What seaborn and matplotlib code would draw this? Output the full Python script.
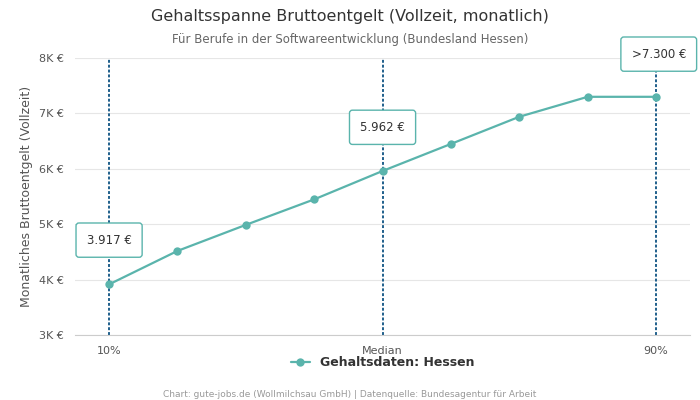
import matplotlib
matplotlib.use("Agg")
import matplotlib.pyplot as plt
import seaborn as sns
import pandas as pd

positions = [0, 1, 2, 3, 4, 5, 6, 7, 8]
salaries = [3917, 4520, 4990, 5450, 5962, 6450, 6940, 7300, 7300]
tick_pos = [0, 4, 8]
tick_labels = ["10%", "Median", "90%"]
marker_pos = [0, 4, 8]
marker_text = ["3.917 €", "5.962 €", ">7.300 €"]
marker_y = [4715, 6750, 8070]

color = "#5ab4ac"
df = pd.DataFrame({"pos": positions, "gehalt": salaries})

fig = plt.figure(figsize=(7, 4), dpi=100)
ax = fig.add_axes([0.107, 0.162, 0.879, 0.693])
sns.set_style("white")

for x in marker_pos:
    ax.axvline(x, color="#1f5f8b", linestyle=(0, (1.5, 1)), linewidth=1.4, zorder=1)

sns.lineplot(data=df, x="pos", y="gehalt", color=color, marker="o", markersize=6,
             markeredgewidth=0, linewidth=1.6, ax=ax, label="Gehaltsdaten: Hessen", zorder=3)

for x, y, t in zip(marker_pos, marker_y, marker_text):
    ax.text(x + (0.04 if x == 8 else 0), y, t, ha="center", va="center", fontsize=8.5, color="#333333",
            bbox=dict(boxstyle="round,pad=0.9,rounding_size=0.25", fc="white", ec=color, lw=1), zorder=5)

ax.set_xlim(-0.5, 8.5)
ax.set_ylim(3000, 8000)
ax.set_yticks(range(3000, 8001, 1000))
ax.set_yticklabels([f"{v // 1000}K €" for v in range(3000, 8001, 1000)], fontsize=8, color="#555555")
ax.set_xticks(tick_pos)
ax.set_xticklabels(tick_labels, fontsize=8, color="#555555")
ax.tick_params(length=0, pad=8)
ax.grid(axis="y", color="#e6e6e6", linewidth=0.8)
ax.set_axisbelow(True)
for s in ["top", "right", "left"]:
    ax.spines[s].set_visible(False)
ax.spines["bottom"].set_color("#cccccc")
ax.set_xlabel("")
ax.set_ylabel("Monatliches Bruttoentgelt (Vollzeit)", fontsize=9, color="#555555")

leg = ax.legend(loc="upper center", bbox_to_anchor=(0.5, -0.035), frameon=False,
                prop={"weight": "bold", "size": 9}, handlelength=1.5)
for txt in leg.get_texts():
    txt.set_color("#333333")

fig.text(0.5, 0.947, "Gehaltsspanne Bruttoentgelt (Vollzeit, monatlich)", ha="center",
         fontsize=11.5, color="#333333")
fig.text(0.5, 0.892, "Für Berufe in der Softwareentwicklung (Bundesland Hessen)", ha="center",
         fontsize=8.5, color="#666666")
fig.text(0.5, 0.008, "Chart: gute-jobs.de (Wollmilchsau GmbH) | Datenquelle: Bundesagentur für Arbeit",
         ha="center", fontsize=6.5, color="#999999")

fig.savefig("out.png", dpi=100)
